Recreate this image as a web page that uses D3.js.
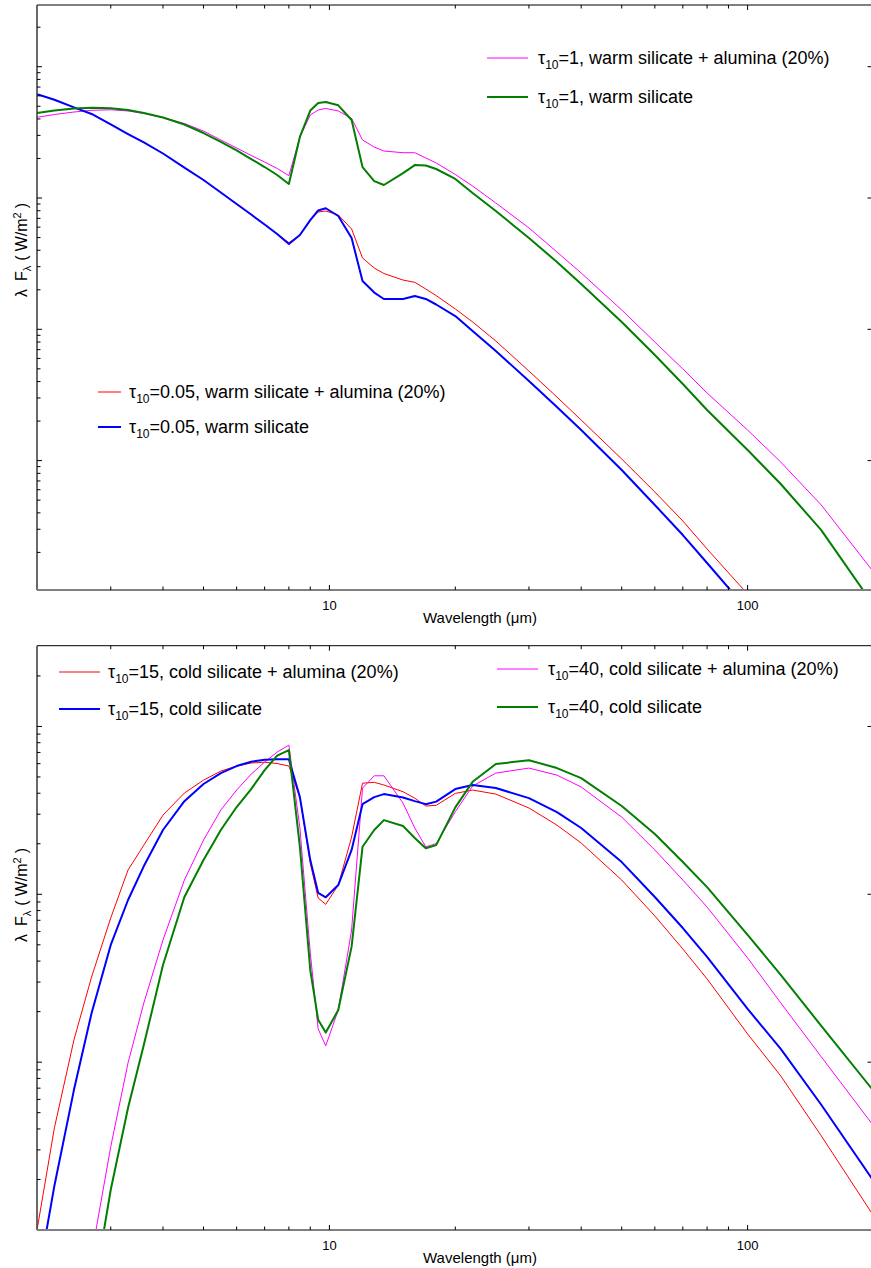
<!DOCTYPE html>
<html>
<head>
<meta charset="utf-8">
<title>Silicate + alumina dust models</title>
<script src="https://d3js.org/d3.v7.min.js"></script>
<style>
  body { margin: 0; background: #fff; }
  text { font-family: "Liberation Sans", Arial, sans-serif; fill: #000; }
</style>
</head>
<body>
<div id="chart"></div>
<script>

// wavelength grid (micron)
const wavelength = [2, 2.2, 2.45, 2.7, 3, 3.3, 3.6, 4, 4.5, 5,
  5.5, 6, 6.5, 7, 7.5, 8, 8.5, 9, 9.4, 9.8,
  10.5, 11.3, 12, 12.8, 13.5, 15, 16, 17, 18, 20,
  22, 25, 30, 35, 40, 50, 60, 70, 80, 100,
  120, 150, 200];

// log10 of lambda*F_lambda (W/m^2), upper panel
const upperTau1Alumina = [-12.385, -12.364, -12.345, -12.332, -12.328, -12.337, -12.356, -12.387, -12.433, -12.490,
  -12.558, -12.619, -12.676, -12.726, -12.775, -12.830, -12.535, -12.368, -12.330, -12.318,
  -12.337, -12.394, -12.558, -12.612, -12.642, -12.655, -12.655, -12.695, -12.733, -12.821,
  -12.909, -13.038, -13.228, -13.411, -13.571, -13.853, -14.097, -14.302, -14.485, -14.767,
  -15.011, -15.338, -15.848];
const upperTau1Warm = [-12.353, -12.334, -12.318, -12.312, -12.317, -12.330, -12.353, -12.387, -12.440, -12.505,
  -12.573, -12.638, -12.703, -12.764, -12.825, -12.893, -12.535, -12.334, -12.276, -12.269,
  -12.294, -12.406, -12.764, -12.871, -12.901, -12.810, -12.749, -12.752, -12.779, -12.855,
  -12.962, -13.099, -13.305, -13.487, -13.655, -13.944, -14.196, -14.417, -14.615, -14.919,
  -15.178, -15.529, -16.100];
const upperTau005Alumina = [-12.210, -12.252, -12.310, -12.360, -12.440, -12.513, -12.577, -12.661, -12.768, -12.863,
  -12.958, -13.046, -13.126, -13.202, -13.274, -13.340, -13.282, -13.168, -13.107, -13.099,
  -13.129, -13.236, -13.457, -13.533, -13.575, -13.625, -13.642, -13.693, -13.743, -13.845,
  -13.944, -14.089, -14.318, -14.516, -14.691, -14.988, -15.239, -15.460, -15.673, -16.016,
  -16.366, null, null];
const upperTau005Warm = [-12.210, -12.252, -12.310, -12.360, -12.440, -12.513, -12.577, -12.661, -12.768, -12.863,
  -12.958, -13.046, -13.126, -13.202, -13.274, -13.350, -13.282, -13.168, -13.095, -13.078,
  -13.137, -13.305, -13.632, -13.720, -13.769, -13.769, -13.746, -13.769, -13.811, -13.899,
  -14.013, -14.165, -14.394, -14.592, -14.767, -15.072, -15.338, -15.567, -15.780, -16.138,
  -16.481, null, null];

// log10 of lambda*F_lambda (W/m^2), lower panel
const lowerTau15Alumina = [-15.998, -15.391, -14.867, -14.492, -14.141, -13.855, -13.707, -13.528, -13.397, -13.320,
  -13.266, -13.236, -13.218, -13.213, -13.221, -13.236, -13.423, -13.815, -14.022, -14.060,
  -13.945, -13.659, -13.338, -13.333, -13.349, -13.389, -13.427, -13.474, -13.470, -13.399,
  -13.379, -13.403, -13.486, -13.588, -13.695, -13.915, -14.129, -14.326, -14.504, -14.832,
  -15.082, -15.439, -15.915];
const lowerTau15Cold = [-16.320, -15.736, -15.165, -14.707, -14.302, -14.034, -13.832, -13.617, -13.445, -13.343,
  -13.278, -13.236, -13.210, -13.198, -13.195, -13.196, -13.421, -13.796, -13.992, -14.018,
  -13.945, -13.736, -13.463, -13.421, -13.403, -13.423, -13.445, -13.463, -13.448, -13.373,
  -13.349, -13.367, -13.427, -13.510, -13.605, -13.808, -14.016, -14.201, -14.373, -14.683,
  -14.921, -15.254, -15.707];
const lowerTau40Alumina = [null, null, null, -16.147, -15.504, -15.004, -14.647, -14.272, -13.915, -13.677,
  -13.498, -13.379, -13.284, -13.213, -13.153, -13.111, -13.605, -14.349, -14.802, -14.903,
  -14.689, -14.213, -13.367, -13.294, -13.294, -13.457, -13.605, -13.717, -13.698, -13.508,
  -13.355, -13.278, -13.248, -13.290, -13.361, -13.540, -13.736, -13.915, -14.076, -14.379,
  -14.647, -14.968, -15.379];
const lowerTau40Cold = [null, null, null, -16.439, -15.760, -15.272, -14.897, -14.421, -14.016, -13.796,
  -13.617, -13.480, -13.373, -13.260, -13.174, -13.141, -13.717, -14.451, -14.748, -14.824,
  -14.689, -14.312, -13.717, -13.617, -13.558, -13.593, -13.665, -13.726, -13.707, -13.482,
  -13.330, -13.224, -13.201, -13.248, -13.308, -13.474, -13.641, -13.808, -13.957, -14.242,
  -14.480, -14.784, -15.171];

const xTickLabels = [10, 100];
const xTitle = "Wavelength (\u03bcm)";

const upperLegendA = [["1", "warm silicate + alumina (20%)"], ["1", "warm silicate"]];
const upperLegendB = [["0.05", "warm silicate + alumina (20%)"], ["0.05", "warm silicate"]];
const lowerLegendA = [["15", "cold silicate + alumina (20%)"], ["15", "cold silicate"]];
const lowerLegendB = [["40", "cold silicate + alumina (20%)"], ["40", "cold silicate"]];


const svg = d3.select("#chart").append("svg")
    .attr("width", 871)
    .attr("height", 1268);

const x = d3.scaleLog().domain([2, 200]).range([37.1, 873.5]);

function isDecade(t) {
  let l = Math.log10(t);
  return Math.abs(l - Math.round(l)) < 1e-6;
}

function points(vals) {
  return wavelength.map((w, i) => ({ w: w, f: vals[i] == null ? null : Math.pow(10, vals[i]) }));
}

function drawLegend(g, items, colors, widths, lx1, lx2, tx, ys) {
  items.forEach((it, i) => {
    g.append("line")
      .attr("x1", lx1).attr("x2", lx2)
      .attr("y1", ys[i]).attr("y2", ys[i])
      .attr("stroke", colors[i]).attr("stroke-width", widths[i]);
    let t = g.append("text")
      .attr("x", tx).attr("y", ys[i] + 6)
      .attr("font-size", 18);
    t.append("tspan").text("\u03c4");
    t.append("tspan").attr("font-size", 12).attr("dy", 5).text("10");
    t.append("tspan").attr("dy", -5).text("=" + it[0] + ", " + it[1]);
  });
}

function drawPanel(p) {
  const g = svg.append("g");
  const y = d3.scaleLog().domain(p.yDomain).range([p.bottom, p.top]);

  g.append("clipPath").attr("id", p.id)
    .append("rect")
      .attr("x", 37).attr("y", p.top)
      .attr("width", 871 - 37).attr("height", p.bottom - p.top);

  const line = d3.line()
    .defined(d => d.f != null)
    .x(d => x(d.w))
    .y(d => y(d.f));

  g.append("g")
    .attr("clip-path", "url(#" + p.id + ")")
    .selectAll("path")
    .data(p.series)
    .join("path")
      .attr("d", s => line(points(s.values)))
      .attr("fill", "none")
      .attr("stroke", s => s.color)
      .attr("stroke-width", s => s.width)
      .attr("stroke-linejoin", "round");

  // frame
  g.append("line").attr("x1", 37).attr("x2", 871).attr("y1", p.top).attr("y2", p.top)
    .attr("stroke", "#000").attr("stroke-width", 1);
  g.append("line").attr("x1", 37).attr("x2", 37).attr("y1", p.top).attr("y2", p.bottom)
    .attr("stroke", "#444").attr("stroke-width", 1.6);
  g.append("line").attr("x1", 37).attr("x2", 871).attr("y1", p.bottom).attr("y2", p.bottom)
    .attr("stroke", "#808080").attr("stroke-width", 2);

  // x ticks, bottom and top
  const xt = x.ticks().filter(t => x(t) > 38 && x(t) < 871);
  g.selectAll(".xb").data(xt).join("line")
    .attr("x1", d => x(d)).attr("x2", d => x(d))
    .attr("y1", p.bottom).attr("y2", d => p.bottom - (isDecade(d) ? 5 : 3.5))
    .attr("stroke", "#000");
  g.selectAll(".xt").data(xt).join("line")
    .attr("x1", d => x(d)).attr("x2", d => x(d))
    .attr("y1", p.top).attr("y2", d => p.top + (isDecade(d) ? 5 : 3.5))
    .attr("stroke", "#000");

  // y ticks, left all, right decades only
  const yt = y.ticks().filter(t => y(t) > p.top + 1 && y(t) < p.bottom - 1);
  g.selectAll(".yl").data(yt).join("line")
    .attr("x1", 37).attr("x2", d => 37 + (isDecade(d) ? 5 : 3.5))
    .attr("y1", d => y(d)).attr("y2", d => y(d))
    .attr("stroke", "#000");
  g.selectAll(".yr").data(yt.filter(isDecade)).join("line")
    .attr("x1", 873.5).attr("x2", 867.5)
    .attr("y1", d => y(d)).attr("y2", d => y(d))
    .attr("stroke", "#000");

  g.selectAll(".xl").data(xTickLabels).join("text")
    .attr("x", d => x(d)).attr("y", p.bottom + 19.5)
    .attr("text-anchor", "middle").attr("font-size", 13)
    .text(d => d);

  g.append("text")
    .attr("x", 480).attr("y", p.bottom + 33)
    .attr("text-anchor", "middle").attr("font-size", 15)
    .text(xTitle);

  const yl = g.append("text")
    .attr("transform", "translate(27," + p.yLabelY + ") rotate(-90)")
    .attr("text-anchor", "middle").attr("font-size", 16);
  yl.append("tspan").text("\u03bb");
  yl.append("tspan").attr("dx", 8).text("F");
  yl.append("tspan").attr("font-size", 11).attr("dy", 4).text("\u03bb");
  yl.append("tspan").attr("dx", 5).attr("dy", -4).text("(");
  yl.append("tspan").attr("dx", 4).text("W/m");
  yl.append("tspan").attr("font-size", 11).attr("dy", -6).text("2");
  yl.append("tspan").attr("dx", 4).attr("dy", 6).text(")");

  p.legends.forEach(l => drawLegend(g, l.items, l.colors, l.widths, l.x1, l.x2, l.tx, l.ys));
}

drawPanel({
  id: "clipUpper",
  top: 5, bottom: 590,
  yDomain: [Math.pow(10, -15.9855), Math.pow(10, -11.53)],
  yLabelY: 250,
  series: [
    { values: upperTau005Alumina, color: "#ff0000", width: 1 },
    { values: upperTau1Alumina, color: "#ff00ff", width: 1 },
    { values: upperTau005Warm, color: "#0000ff", width: 2 },
    { values: upperTau1Warm, color: "#007f00", width: 2 }
  ],
  legends: [
    { items: upperLegendA, colors: ["#ff00ff", "#007f00"], widths: [1, 2], x1: 487, x2: 528, tx: 538, ys: [58, 97] },
    { items: upperLegendB, colors: ["#ff0000", "#0000ff"], widths: [1, 2], x1: 98, x2: 121, tx: 129, ys: [392, 427] }
  ]
});

drawPanel({
  id: "clipLower",
  top: 645.7, bottom: 1230,
  yDomain: [1e-16, Math.pow(10, -12.519)],
  yLabelY: 895,
  series: [
    { values: lowerTau15Alumina, color: "#ff0000", width: 1 },
    { values: lowerTau40Alumina, color: "#ff00ff", width: 1 },
    { values: lowerTau15Cold, color: "#0000ff", width: 2 },
    { values: lowerTau40Cold, color: "#007f00", width: 2 }
  ],
  legends: [
    { items: lowerLegendA, colors: ["#ff0000", "#0000ff"], widths: [1, 2], x1: 59, x2: 100, tx: 108, ys: [672, 709] },
    { items: lowerLegendB, colors: ["#ff00ff", "#007f00"], widths: [1, 2], x1: 497, x2: 538, tx: 548, ys: [669, 707] }
  ]
});

</script>
</body>
</html>
